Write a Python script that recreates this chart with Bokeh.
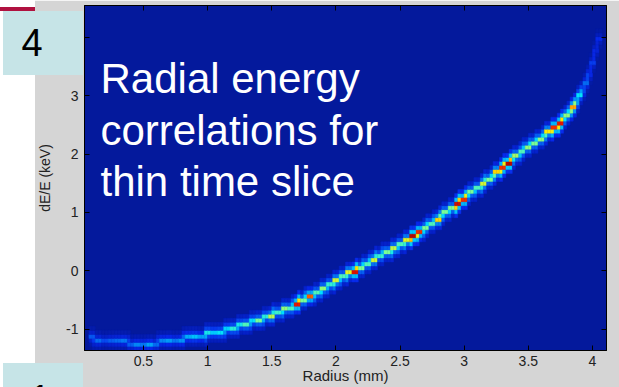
import numpy as np
from bokeh.plotting import figure
from bokeh.layouts import column
from bokeh.models import (Range1d, FixedTicker, LinearAxis, LinearColorMapper, Label, Div,
                          ColumnDataSource, NumeralTickFormatter, CustomJSTickFormatter)
from bokeh.embed import file_html
from bokeh.resources import INLINE

# ---------------- data ----------------
RADIUS = [0.10, 0.15, 0.20, 0.25, 0.30, 0.35, 0.40, 0.45, 0.50, 0.55,
          0.60, 0.65, 0.70, 0.75, 0.80, 0.85, 0.90, 0.95, 1.00, 1.05,
          1.10, 1.15, 1.20, 1.25, 1.30, 1.35, 1.40, 1.45, 1.50, 1.55,
          1.60, 1.65, 1.70, 1.75, 1.80, 1.85, 1.90, 1.95, 2.00, 2.05,
          2.10, 2.15, 2.20, 2.25, 2.30, 2.35, 2.40, 2.45, 2.50, 2.55,
          2.60, 2.65, 2.70, 2.75, 2.80, 2.85, 2.90, 2.95, 3.00, 3.05,
          3.10, 3.15, 3.20, 3.25, 3.30, 3.35, 3.40, 3.45, 3.50, 3.55,
          3.60, 3.65, 3.70, 3.75, 3.80, 3.85, 3.90, 3.95, 4.00, 4.05]

DE_RIDGE = [-1.16, -1.18, -1.19, -1.20, -1.21, -1.22, -1.23, -1.24, -1.24, -1.24,
            -1.23, -1.22, -1.21, -1.19, -1.17, -1.15, -1.13, -1.11, -1.09, -1.07,
            -1.04, -1.01, -0.98, -0.95, -0.92, -0.88, -0.84, -0.80, -0.75, -0.71,
            -0.66, -0.61, -0.56, -0.50, -0.44, -0.38, -0.32, -0.25, -0.19, -0.12,
            -0.05, 0.01, 0.07, 0.13, 0.19, 0.26, 0.32, 0.38, 0.45, 0.52,
            0.59, 0.66, 0.74, 0.82, 0.90, 0.98, 1.07, 1.16, 1.25, 1.33,
            1.41, 1.49, 1.58, 1.68, 1.77, 1.86, 1.97, 2.05, 2.14, 2.21,
            2.28, 2.36, 2.44, 2.53, 2.66, 2.80, 2.99, 3.22, 3.55, 3.95]

DENSITY = [0.17, 0.20, 0.15, 0.18, 0.20, 0.22, 0.18, 0.24,
           0.22, 0.28, 0.20, 0.24, 0.27, 0.22, 0.26,
           0.30, 0.33, 0.28, 0.40, 0.34, 0.38, 0.35, 0.42,
           0.40, 0.46, 0.38, 0.50, 0.42, 0.56, 0.44, 0.52,
           0.46, 0.88, 0.50, 0.80, 0.46, 0.52, 0.43, 0.58,
           0.46, 0.60, 0.90, 0.50, 0.46, 0.58, 0.43, 0.50, 0.56, 0.46,
           0.60, 0.95, 0.85, 0.50, 0.46, 0.66, 0.50, 0.50, 0.92, 0.85,
           0.50, 0.46, 0.58, 0.50, 0.66, 0.85, 0.95, 0.54, 0.46, 0.52,
           0.50, 0.52, 0.63, 0.85, 0.88, 0.52, 0.72, 0.38, 0.20, 0.13, 0.10]

X_TICKS = [0.5, 1, 1.5, 2, 2.5, 3, 3.5, 4]
Y_TICKS = [-1, 0, 1, 2, 3, 4]
X_LABEL = "Radius (mm)"
Y_LABEL = "dE/E (keV)"
OVERLAY_LINES = ["Radial energy", "correlations for", "thin time slice"]
SLIDE_NUMBERS = ["4", "1"]

# ---------------- styling ----------------
BG = "#04199c"
GRAY = "#d5d5d5"
LIGHT_BLUE = "#c6e4e7"
MAROON = "#b01240"
TXT = "#222222"
W, H = 619, 387
FONT = "Liberation Sans"

anchors = [(0.0, (4, 25, 156)), (0.10, (8, 40, 235)), (0.375, (0, 225, 255)),
           (0.5, (120, 255, 150)), (0.625, (255, 240, 0)), (0.75, (255, 140, 0)),
           (0.875, (235, 25, 0)), (1.0, (150, 0, 0))]
ap = np.array([a[0] for a in anchors])
ac = np.array([a[1] for a in anchors], dtype=float)
palette = []
for t in np.linspace(0, 1, 256):
    r, g, b = (np.interp(t, ap, ac[:, j]) for j in range(3))
    palette.append("#%02x%02x%02x" % (int(round(r)), int(round(g)), int(round(b))))
mapper = LinearColorMapper(palette=palette, low=0, high=1)

# ---------------- histogram cells ----------------
DY = 0.069
Y0 = -1.367
SUB = 0.025
cx, cy, cv = [], [], []
n = len(RADIUS)
for i in range(n):
    y = DE_RIDGE[i]
    prev = DE_RIDGE[i - 1] if i > 0 else y
    nxt = DE_RIDGE[i + 1] if i < n - 1 else y
    for side, (a, b) in ((-1, ((prev + y) / 2, y)), (1, (y, (y + nxt) / 2))):
        xc = RADIUS[i] + side * SUB / 2
        ka = int(np.floor((min(a, b) - Y0) / DY))
        kb = int(np.floor((max(a, b) - Y0) / DY))
        kc = int(np.floor((y - Y0) / DY))
        for k in range(ka - 2, kb + 3):
            if ka <= k <= kb:
                f = 1.0 if k == kc else 0.72
            elif k in (ka - 1, kb + 1):
                f = 0.36
            else:
                f = 0.12
            cx.append(xc)
            cy.append(Y0 + (k + 0.5) * DY)
            cv.append(DENSITY[i] * f)
src = ColumnDataSource(dict(x=cx, y=cy, v=cv))

# ---------------- chart ----------------
p = figure(width=W, height=H, x_range=Range1d(0.041, 4.109), y_range=Range1d(-1.367, 4.55),
           output_backend="svg", toolbar_location=None,
           min_border_left=84, min_border_right=13, min_border_top=5, min_border_bottom=37)
p.background_fill_color = BG
p.border_fill_color = GRAY
p.outline_line_color = "black"
p.outline_line_width = 1
p.grid.visible = False

p.rect(x="x", y="y", width=SUB, height=DY, source=src,
       fill_color={"field": "v", "transform": mapper},
       line_color={"field": "v", "transform": mapper}, line_width=0.4)

def style_axis(ax, labels=True):
    ax.major_tick_in = 5
    ax.major_tick_out = 0
    ax.minor_tick_line_color = None
    ax.axis_line_color = "black"
    ax.major_tick_line_color = "black"
    ax.major_label_text_font = FONT
    ax.major_label_text_font_size = "14px"
    ax.major_label_text_color = TXT
    ax.axis_label_text_font = FONT
    ax.axis_label_text_font_style = "normal"
    ax.axis_label_text_color = TXT
    if labels:
        ax.major_label_standoff = 5
    else:
        ax.major_label_standoff = 0
        ax.formatter = CustomJSTickFormatter(code="return ''")

p.xaxis.ticker = FixedTicker(ticks=X_TICKS)
p.xaxis.formatter = NumeralTickFormatter(format="0.[0]")
p.yaxis.ticker = FixedTicker(ticks=Y_TICKS)
p.yaxis.formatter = NumeralTickFormatter(format="0")
style_axis(p.xaxis[0])
style_axis(p.yaxis[0])
p.yaxis.major_label_standoff = 6
p.xaxis.axis_label = X_LABEL
p.yaxis.axis_label = Y_LABEL
p.xaxis.axis_label_text_font_size = "15px"
p.yaxis.axis_label_text_font_size = "14px"
p.xaxis.axis_label_standoff = -2
p.yaxis.axis_label_standoff = 10

top = LinearAxis(ticker=FixedTicker(ticks=X_TICKS))
right = LinearAxis(ticker=FixedTicker(ticks=Y_TICKS))
style_axis(top, labels=False)
style_axis(right, labels=False)
p.add_layout(top, "above")
p.add_layout(right, "right")

for line, base in zip(OVERLAY_LINES, [78, 129.5, 181]):
    p.add_layout(Label(x=100, y=base, x_units="canvas", y_units="canvas", text=line,
                       text_font=FONT, text_font_size="42px", text_color="white",
                       text_align="left", text_baseline="alphabetic"))

# ---------------- slide decorations (HTML overlay on top of the chart border) ----------------
def blk(l, t, w, h, color):
    return (f'<div style="position:absolute;left:{l}px;top:{t}px;width:{w}px;'
            f'height:{h}px;background:{color};"></div>')

def num(txt, l, t):
    return (f'<div style="position:absolute;left:{l}px;top:{t}px;width:22px;'
            f'text-align:center;font-family:\'{FONT}\';font-size:38px;line-height:38px;'
            f'color:black;">{txt}</div>')

html = (f'<div style="position:relative;width:{W}px;height:{H}px;overflow:hidden;margin:0;padding:0;">'
        + blk(0, 0, 35, H, "white")
        + blk(0, 7, 35, 4, MAROON)
        + blk(3, 11, 80, 64, LIGHT_BLUE)
        + blk(3, 363, 80, H - 363, LIGHT_BLUE)
        + num(SLIDE_NUMBERS[0], 21, 24)
        + num(SLIDE_NUMBERS[1], 29, 380)
        + '</div>')
deco = Div(text=html, width=W, height=H, margin=(0, 0, 0, 0))
deco.styles = {"position": "absolute", "left": "0px", "top": "0px",
               "margin": "0px", "padding": "0px", "pointer-events": "none"}

root = column(p, deco)
open("out.html", "w").write(file_html(root, INLINE))
